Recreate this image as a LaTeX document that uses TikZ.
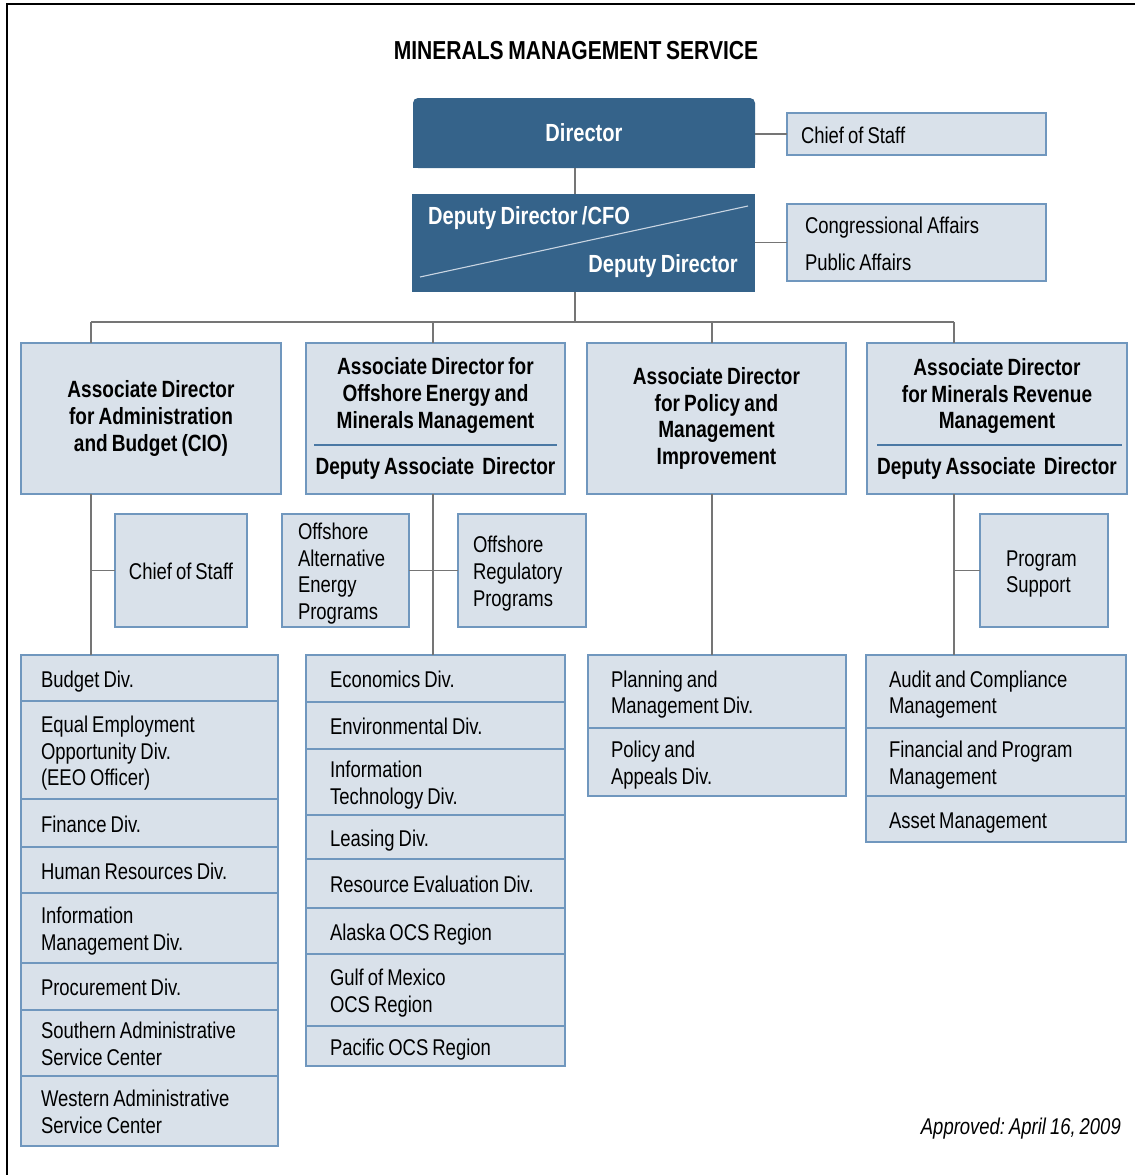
\documentclass[tikz,border=0pt]{standalone}
\usepackage{fontspec}
\setmainfont{Liberation Sans}[FakeStretch=0.81, WordSpace=0.78]
\frenchspacing
\definecolor{dark}{HTML}{35638A}
\definecolor{boxfill}{HTML}{D9E1EA}
\definecolor{boxline}{HTML}{7097BE}
\definecolor{sepline}{HTML}{4A78A4}
\definecolor{conn}{HTML}{757575}
\definecolor{diagc}{HTML}{C9D5E2}
\newcommand\regf{\fontsize{22.8pt}{26.7pt}\selectfont}
\newcommand\bldf{\fontsize{23.5pt}{26.8pt}\selectfont\bfseries}
\newcommand\dkf{\fontsize{24.8pt}{28pt}\selectfont\bfseries}
\newcommand\ttlf{\fontsize{26pt}{30pt}\selectfont\bfseries}
\newcommand\topst{\spaceskip=0pt\xspaceskip=0pt\rule{0pt}{24pt}}
\newcommand\botst{\rule[-6pt]{0pt}{6pt}}
\tikzset{
  lbox/.style={draw=boxline, fill=boxfill, line width=1.4pt, inner sep=0pt, outer sep=0pt,
    anchor=north west, align=flush left, font=\regf,
    execute at begin node=\topst, execute at end node=\botst},
  colA/.style={lbox, minimum width=257pt, text width=217pt, inner xsep=20pt},
  colB/.style={lbox, minimum width=259pt, text width=211pt, inner xsep=24pt},
  colC/.style={lbox, minimum width=258pt, text width=212pt, inner xsep=23pt},
  colD/.style={lbox, minimum width=260pt, text width=214pt, inner xsep=23pt},
  adbox/.style={draw=boxline, fill=boxfill, line width=1.4pt, inner sep=0pt, outer sep=0pt,
    anchor=north west, align=center, font=\bldf, minimum height=151pt},
  sbox/.style={lbox, minimum height=113pt},
  darkbox/.style={fill=dark, draw=none, text=white, font=\dkf, inner sep=0pt, outer sep=0pt, anchor=north west},
  dkt/.style={text=white, font=\dkf, inner sep=0pt},
  bldt/.style={font=\bldf, align=center, inner sep=0pt},
  link/.style={draw=conn, line width=1.5pt},
  sepl/.style={draw=sepline, line width=1.1pt},
}
\begin{document}
\begin{tikzpicture}[x=1pt,y=-1pt]
\useasboundingbox (0,0) rectangle (1135,1175);
\fill[white] (0,0) rectangle (1135,1175);
\draw[line width=2.5pt] (7,1175) -- (7,4) -- (1135,4);

% title
\node[font=\ttlf, inner sep=0pt] (title) at (576,51) {MINERALS MANAGEMENT SERVICE};

% director
\fill[dark] (413,133) rectangle (755,168);
\node[darkbox, rounded corners=5pt, minimum width=342pt, minimum height=70pt] (dir) at (413,98) {Director};
\node[lbox, minimum width=259pt, minimum height=42pt, text width=231pt, inner xsep=14pt] (cos1) at (787,113) {Chief of Staff};

% deputy
\node[darkbox, minimum width=343pt, minimum height=98pt] (dep) at (412,194) {};
\draw[diagc, line width=1.1pt] (420,277) -- (748,206);
\node[dkt, anchor=west] (dep1) at (428,218) {Deputy Director /CFO};
\node[dkt, anchor=east] (dep2) at (738,266) {Deputy Director};
\node[lbox, minimum width=259pt, minimum height=77pt, text width=223pt, inner xsep=18pt,
  font=\fontsize{22.8pt}{37pt}\selectfont] (ca) at (787,204) {Congressional Affairs\\Public Affairs};

% associate directors
\node[adbox, minimum width=260pt] (ad1) at (21,343) {Associate Director\\for Administration\\and Budget (CIO)};
\node[adbox, minimum width=259pt] (ad2) at (306,343) {};
\node[bldt] (ad2t) at (435.5,395.5) {Associate Director for\\Offshore Energy and\\Minerals Management};
\draw[sepl] (314,445) -- (557,445);
\node[bldt] (ad2d) at (435.5,468) {Deputy Associate\ \ Director};
\node[adbox, minimum width=259pt] (ad3) at (587,343) {Associate Director\\for Policy and\\Management\\Improvement};
\node[adbox, minimum width=260pt] (ad4) at (867,343) {};
\node[bldt] (ad4t) at (997,396) {Associate Director\\for Minerals Revenue\\Management};
\draw[sepl] (877,445) -- (1122,445);
\node[bldt] (ad4d) at (997,468) {Deputy Associate\ \ Director};

% staff boxes
\node[sbox, text width=110pt, inner xsep=11pt, align=flush center] (cos2) at (115,514) {Chief of Staff};
\node[sbox, text width=95pt, inner xsep=16pt] (oae) at (282,514) {Offshore\\Alternative\\Energy\\Programs};
\node[sbox, text width=98pt, inner xsep=15pt] (orp) at (458,514) {Offshore\\Regulatory\\Programs};
\node[sbox, text width=76pt, inner xsep=26pt] (ps) at (980,514) {Program\\Support};

% column A
\node[colA, minimum height=46pt] (a1) at (21,655) {Budget Div.};
\node[colA, minimum height=98pt] (a2) at (21,701) {Equal Employment\\Opportunity Div.\\(EEO Officer)};
\node[colA, minimum height=48pt] (a3) at (21,799) {Finance Div.};
\node[colA, minimum height=46pt] (a4) at (21,847) {Human Resources Div.};
\node[colA, minimum height=70pt] (a5) at (21,893) {Information\\Management Div.};
\node[colA, minimum height=47pt] (a6) at (21,963) {Procurement Div.};
\node[colA, minimum height=66pt] (a7) at (21,1010) {Southern Administrative\\Service Center};
\node[colA, minimum height=70pt] (a8) at (21,1076) {Western Administrative\\Service Center};

% column B
\node[colB, minimum height=47pt] (b1) at (306,655) {Economics Div.};
\node[colB, minimum height=47pt] (b2) at (306,702) {Environmental Div.};
\node[colB, minimum height=66pt] (b3) at (306,749) {Information\\Technology Div.};
\node[colB, minimum height=44pt] (b4) at (306,815) {Leasing Div.};
\node[colB, minimum height=49pt] (b5) at (306,859) {Resource Evaluation Div.};
\node[colB, minimum height=46pt] (b6) at (306,908) {Alaska OCS Region};
\node[colB, minimum height=72pt] (b7) at (306,954) {Gulf of Mexico\\OCS Region};
\node[colB, minimum height=40pt] (b8) at (306,1026) {Pacific OCS Region};

% column C
\node[colC, minimum height=73pt] (c1) at (588,655) {Planning and\\Management Div.};
\node[colC, minimum height=68pt] (c2) at (588,728) {Policy and\\Appeals Div.};

% column D
\node[colD, minimum height=73pt] (d1) at (866,655) {Audit and Compliance\\Management};
\node[colD, minimum height=68pt] (d2) at (866,728) {Financial and Program\\Management};
\node[colD, minimum height=46pt] (d3) at (866,796) {Asset Management};

% approved
\node[font=\regf\itshape, anchor=east, inner sep=0pt] (appr) at (1121,1129) {Approved: April 16, 2009};

% connectors
\coordinate (trunk) at (575,322);
\coordinate (k1) at (91,322);
\coordinate (k2) at (433,322);
\coordinate (k3) at (712,322);
\coordinate (k4) at (954,322);
\draw[link] (dir.south -| trunk) -- (dep.north -| trunk);
\draw[link] (dep.south -| trunk) -- (trunk);
\draw[link] (cos1.west -| dir.east) -- (cos1.west);
\draw[link] (ca.west -| dep.east) -- (ca.west);
\draw[link] (k1) -- (k4);
\draw[link] (k1) -- (k1 |- ad1.north);
\draw[link] (k2) -- (k2 |- ad2.north);
\draw[link] (k3) -- (k3 |- ad3.north);
\draw[link] (k4) -- (k4 |- ad4.north);
\draw[link] (k1 |- ad1.south) -- (k1 |- a1.north);
\draw[link] (k1 |- cos2.west) -- (cos2.west);
\draw[link] (k2 |- ad2.south) -- (k2 |- b1.north);
\draw[link] (oae.east) -- (orp.west);
\draw[link] (k3 |- ad3.south) -- (k3 |- c1.north);
\draw[link] (k4 |- ad4.south) -- (k4 |- d1.north);
\draw[link] (k4 |- ps.west) -- (ps.west);
\end{tikzpicture}
\end{document}
